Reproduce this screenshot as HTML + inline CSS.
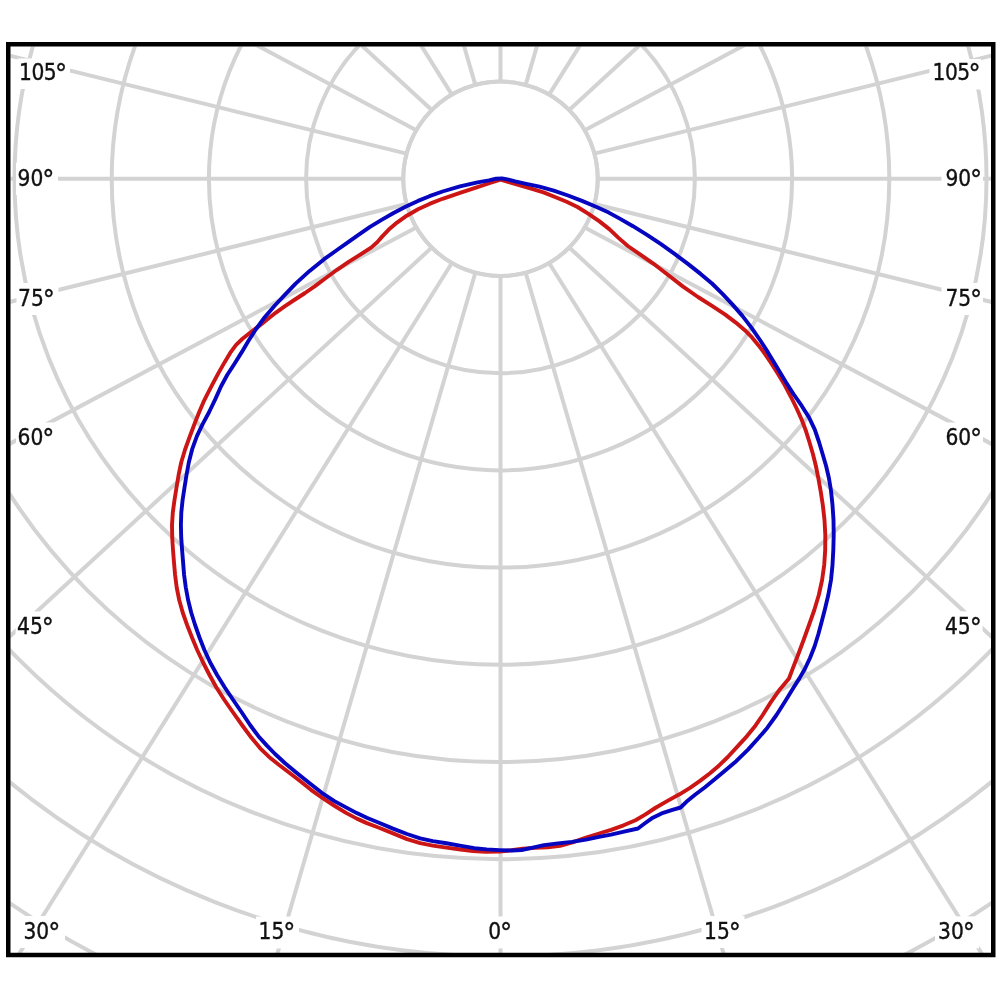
<!DOCTYPE html>
<html><head><meta charset="utf-8"><style>
html,body{margin:0;padding:0;background:#fff;}
svg{display:block;}
</style></head><body>
<svg width="1000" height="1000" viewBox="0 0 1000 1000">
<defs><clipPath id="fr"><rect x="10.5" y="46.5" width="980.5" height="906.5"/></clipPath></defs>
<rect x="0" y="0" width="1000" height="1000" fill="#fff"/>
<g clip-path="url(#fr)">
<g fill="none" stroke="#d3d3d3" stroke-width="4">
<circle cx="500.5" cy="178.8" r="97.20"/>
<circle cx="500.5" cy="178.8" r="194.40"/>
<circle cx="500.5" cy="178.8" r="291.60"/>
<circle cx="500.5" cy="178.8" r="388.80"/>
<circle cx="500.5" cy="178.8" r="486.00"/>
<circle cx="500.5" cy="178.8" r="583.20"/>
<circle cx="500.5" cy="178.8" r="680.40"/>
<circle cx="500.5" cy="178.8" r="777.60"/>
<circle cx="500.5" cy="178.8" r="874.80"/>
<line x1="500.50" y1="276.00" x2="500.50" y2="2276.00"/>
<line x1="475.34" y1="272.69" x2="-82.99" y2="2193.17"/>
<line x1="451.90" y1="262.98" x2="-609.83" y2="1957.89"/>
<line x1="431.77" y1="247.53" x2="-1038.88" y2="1602.96"/>
<line x1="416.32" y1="227.40" x2="-1349.27" y2="1166.91"/>
<line x1="406.61" y1="203.96" x2="-1535.05" y2="683.47"/>
<line x1="403.30" y1="178.80" x2="-1596.70" y2="178.80"/>
<line x1="406.61" y1="153.64" x2="-1535.05" y2="-325.87"/>
<line x1="416.32" y1="130.20" x2="-1349.27" y2="-809.31"/>
<line x1="431.77" y1="110.07" x2="-1038.88" y2="-1245.36"/>
<line x1="451.90" y1="94.62" x2="-609.83" y2="-1600.29"/>
<line x1="475.34" y1="84.91" x2="-82.99" y2="-1835.57"/>
<line x1="500.50" y1="81.60" x2="500.50" y2="-1918.40"/>
<line x1="525.66" y1="84.91" x2="1083.99" y2="-1835.57"/>
<line x1="549.10" y1="94.62" x2="1610.83" y2="-1600.29"/>
<line x1="569.23" y1="110.07" x2="2039.88" y2="-1245.36"/>
<line x1="584.68" y1="130.20" x2="2350.27" y2="-809.31"/>
<line x1="594.39" y1="153.64" x2="2536.05" y2="-325.87"/>
<line x1="597.70" y1="178.80" x2="2597.70" y2="178.80"/>
<line x1="594.39" y1="203.96" x2="2536.05" y2="683.47"/>
<line x1="584.68" y1="227.40" x2="2350.27" y2="1166.91"/>
<line x1="569.23" y1="247.53" x2="2039.88" y2="1602.96"/>
<line x1="549.10" y1="262.98" x2="1610.83" y2="1957.89"/>
<line x1="525.66" y1="272.69" x2="1083.99" y2="2193.17"/>
</g>
<circle cx="500.5" cy="178.8" r="95.2" fill="#fff"/>
<circle cx="500.5" cy="178.8" r="97.2" fill="none" stroke="#d3d3d3" stroke-width="4"/>
<g fill="#fff">
<rect x="17.5" y="58.5" width="52.5" height="30.5"/>
<rect x="16.0" y="163.0" width="42.0" height="32"/>
<rect x="16.5" y="283.0" width="42.0" height="32"/>
<rect x="16.0" y="422.5" width="42.0" height="32"/>
<rect x="15.6" y="611.4" width="43.2" height="32"/>
<rect x="929.5" y="59.0" width="51.5" height="30.5"/>
<rect x="941.5" y="163.0" width="41.5" height="32"/>
<rect x="941.5" y="283.0" width="41.5" height="32"/>
<rect x="941.0" y="422.5" width="42.0" height="32"/>
<rect x="941.6" y="611.4" width="41.0" height="32"/>
<rect x="19.8" y="916.0" width="45.2" height="32"/>
<rect x="256.0" y="916.5" width="43.0" height="32"/>
<rect x="484.6" y="916.4" width="31.9" height="32"/>
<rect x="701.5" y="916.0" width="43.0" height="32"/>
<rect x="935.0" y="916.4" width="44.0" height="32"/>
</g>
<g fill="none" stroke-width="3.9" stroke-linejoin="round" stroke-linecap="round">
<polyline stroke="#cc1616" points="490.0,183.0 477.5,187.1 460.0,192.8 442.5,198.8 429.5,203.9 418.0,209.2 406.8,215.7 397.0,222.6 388.8,229.6 382.3,236.4 377.2,242.2 371.1,247.6 361.0,254.2 349.0,261.7 337.0,269.8 325.5,278.2 315.0,286.1 305.0,293.0 295.0,299.5 285.0,306.1 275.6,312.8 267.8,319.0 260.1,325.1 251.0,332.0 242.2,339.0 236.1,344.8 230.9,351.8 224.8,361.9 218.4,373.1 212.4,384.4 207.5,393.8 203.5,401.9 199.0,412.5 194.1,425.0 189.4,437.5 184.9,450.0 181.2,462.5 178.6,475.0 176.5,487.5 174.5,500.0 172.8,512.5 172.0,525.0 172.2,537.5 173.0,550.0 174.0,562.5 175.1,575.0 176.7,587.5 179.2,600.0 182.7,612.5 187.1,625.0 192.0,637.5 197.2,650.0 203.1,662.5 209.5,675.0 216.4,687.5 224.4,700.0 233.1,712.5 242.0,725.0 251.1,737.3 260.2,748.3 269.1,756.9 278.8,764.7 290.0,773.2 301.0,781.8 311.0,789.8 322.0,797.7 334.0,805.5 346.0,812.9 356.8,818.6 366.8,823.1 379.0,827.7 393.0,833.4 407.0,839.1 420.2,843.2 432.8,845.6 446.5,847.6 460.4,849.5 472.8,851.0 485.9,851.7 499.5,851.5 511.5,850.3 522.8,848.8 535.0,847.9 547.8,847.2 560.0,845.8 572.5,842.3 586.0,837.6 599.0,833.5 611.0,829.8 623.6,825.3 635.5,820.2 645.1,814.6 655.2,808.0 667.5,800.9 679.5,794.3 690.0,787.9 700.0,780.9 710.0,773.2 719.4,765.2 727.8,757.0 736.9,747.2 747.0,736.1 755.4,725.7 762.7,715.0 771.0,701.9 780.0,689.2 789.0,678.5 792.8,668.4 798.0,655.0 803.6,640.0 809.0,625.0 814.3,610.0 818.8,595.0 822.1,580.0 824.2,565.0 825.2,550.0 825.3,535.0 824.5,520.0 822.8,505.0 820.6,490.8 818.3,478.0 815.9,466.0 812.9,454.0 809.4,442.0 805.9,430.8 801.9,420.2 796.9,409.0 791.0,397.0 784.7,385.0 777.6,373.2 770.9,362.8 764.9,353.9 758.6,345.4 752.0,337.4 744.8,330.2 735.8,322.6 724.9,314.4 712.0,305.9 698.0,297.0 683.1,286.6 667.8,274.7 653.6,263.8 640.0,254.3 627.8,246.0 618.5,237.9 609.6,229.4 599.5,221.4 588.5,213.8 577.5,207.0 566.6,201.8 555.0,197.0 543.5,192.4 532.0,188.8 520.8,185.6 510.6,182.6 500.5,179.6 490.0,183.0"/>
<polyline stroke="#0606c0" points="496.0,178.7 489.0,180.4 477.5,182.4 460.0,186.4 442.5,191.5 429.5,196.2 418.0,200.9 406.0,206.5 394.0,212.8 382.0,219.6 370.0,226.9 358.8,234.6 348.2,242.1 337.0,250.0 324.1,259.2 309.6,270.9 295.6,283.6 284.8,294.8 274.8,305.5 264.5,317.5 255.4,330.0 248.2,341.2 241.9,351.9 234.5,363.8 227.2,375.0 221.1,386.2 215.2,399.4 208.9,412.5 202.5,424.4 196.9,436.2 192.1,449.4 188.8,462.5 186.5,475.0 184.5,487.5 182.6,500.0 181.3,512.5 180.9,525.0 181.2,537.5 182.1,550.0 183.1,562.5 184.1,575.0 185.8,587.5 188.1,600.0 191.2,612.5 195.1,625.0 199.5,637.5 204.4,650.0 210.2,662.5 217.1,675.0 224.8,687.5 233.2,700.0 241.8,712.5 250.1,725.0 258.4,736.2 266.7,745.4 275.1,754.0 284.8,763.0 296.2,772.4 309.0,782.7 321.8,792.8 334.0,800.9 346.0,807.4 356.8,813.1 366.8,817.8 379.0,822.8 393.0,828.6 407.0,834.0 420.2,838.3 432.8,841.1 446.5,843.3 461.2,845.9 474.4,848.2 486.8,849.4 499.7,850.1 511.7,850.5 521.7,850.0 531.6,847.9 544.0,845.1 558.0,843.4 572.0,841.9 586.0,839.6 599.0,836.9 611.0,834.6 624.0,831.7 638.0,828.5 644.6,823.5 651.8,818.3 661.6,813.4 672.4,809.8 680.6,807.5 686.4,801.8 695.0,794.8 705.0,787.2 715.0,779.1 725.2,770.4 736.2,761.2 748.0,749.6 758.5,738.0 767.4,727.7 776.5,715.0 785.5,700.8 793.0,688.5 799.4,678.4 804.8,669.0 810.0,658.0 814.7,646.0 818.4,634.0 821.6,622.0 824.9,609.2 828.3,595.0 831.0,580.0 832.5,565.0 833.3,550.0 833.7,535.0 833.5,520.0 832.5,505.0 831.0,490.8 828.9,478.0 826.1,466.0 822.6,454.0 819.0,442.0 814.8,429.7 809.0,417.4 801.6,405.7 793.5,394.0 785.8,382.0 779.5,371.6 774.4,362.9 768.0,352.4 760.0,340.0 751.4,327.6 742.4,315.9 732.8,304.9 722.5,293.9 712.0,283.5 700.6,273.9 687.9,263.9 674.6,253.9 661.0,244.2 647.0,234.8 633.0,226.2 620.2,218.9 608.8,212.6 596.0,206.7 582.0,200.9 568.0,195.5 553.8,190.6 539.5,186.7 526.2,183.8 515.2,181.4 507.4,179.4 502.0,178.4 496.0,178.7"/>
</g>
</g>
<g font-family="'DejaVu Sans Condensed','DejaVu Sans',sans-serif" font-size="22.5" fill="#111" stroke="#111" stroke-width="0.35">
<text x="19.0" y="79.5" text-anchor="start" letter-spacing="-0.5">105<tspan font-size="27" dy="3.3" dx="-1.1">°</tspan></text>
<text x="17.5" y="185.5" text-anchor="start">90<tspan font-size="27" dy="3.3" dx="-1.1">°</tspan></text>
<text x="18.0" y="305.5" text-anchor="start">75<tspan font-size="27" dy="3.3" dx="-1.1">°</tspan></text>
<text x="17.5" y="444.5" text-anchor="start">60<tspan font-size="27" dy="3.3" dx="-1.1">°</tspan></text>
<text x="17.1" y="633.8" text-anchor="start">45<tspan font-size="27" dy="3.3" dx="-1.1">°</tspan></text>
<text x="980.2" y="79.5" text-anchor="end" letter-spacing="-0.5">105<tspan font-size="27" dy="3.3" dx="-1.1">°</tspan></text>
<text x="982.2" y="185.5" text-anchor="end">90<tspan font-size="27" dy="3.3" dx="-1.1">°</tspan></text>
<text x="982.2" y="305.5" text-anchor="end">75<tspan font-size="27" dy="3.3" dx="-1.1">°</tspan></text>
<text x="982.2" y="444.5" text-anchor="end">60<tspan font-size="27" dy="3.3" dx="-1.1">°</tspan></text>
<text x="981.8" y="633.8" text-anchor="end">45<tspan font-size="27" dy="3.3" dx="-1.1">°</tspan></text>
<text x="41.9" y="938.5" text-anchor="middle">30<tspan font-size="27" dy="3.3" dx="-1.1">°</tspan></text>
<text x="277.0" y="938.5" text-anchor="middle">15<tspan font-size="27" dy="3.3" dx="-1.1">°</tspan></text>
<text x="500.1" y="938.5" text-anchor="middle">0<tspan font-size="27" dy="3.3" dx="-1.1">°</tspan></text>
<text x="722.5" y="938.5" text-anchor="middle">15<tspan font-size="27" dy="3.3" dx="-1.1">°</tspan></text>
<text x="956.5" y="938.5" text-anchor="middle">30<tspan font-size="27" dy="3.3" dx="-1.1">°</tspan></text>
</g>
<rect x="8.25" y="44.25" width="985" height="910.75" fill="none" stroke="#000" stroke-width="4.5"/>
</svg>
</body></html>
